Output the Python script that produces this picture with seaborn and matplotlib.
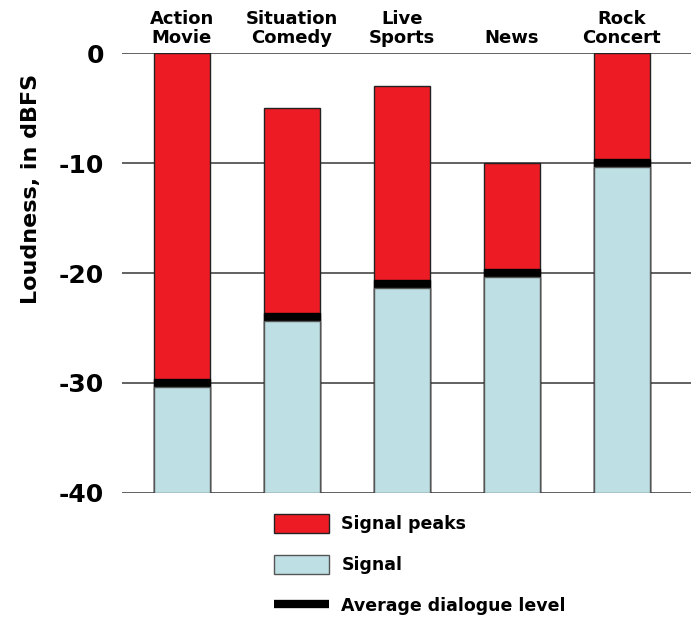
import numpy as np
import pandas as pd
import seaborn as sns
import matplotlib.pyplot as plt
from matplotlib.patches import Patch
from matplotlib.lines import Line2D

categories = ["Action\nMovie", "Situation\nComedy", "Live\nSports", "News", "Rock\nConcert"]
peaks = [0, -5, -3, -10, 0]
dialogue = [-30, -24, -21, -20, -10]
floor = -40
band = 0.33

df = pd.DataFrame({"genre": categories, "peak": peaks, "dialogue": dialogue})
df["peak_h"] = df["peak"] - floor
df["band_h"] = df["dialogue"] + band - floor
df["signal_h"] = df["dialogue"] - band - floor

sns.set_style("white")
plt.rcParams["font.family"] = ["DejaVu Sans"]
plt.rcParams["font.weight"] = "bold"
plt.rcParams["text.color"] = "black"
plt.rcParams["axes.labelcolor"] = "black"
plt.rcParams["xtick.color"] = "black"
plt.rcParams["ytick.color"] = "black"

red = "#ED1C24"
blue = "#BEE0E4"

fig = plt.figure(figsize=(6.91, 6.18), dpi=100)
ax = fig.add_axes([0.1766, 0.2023, 0.8234, 0.7119])

w = 0.51
sns.barplot(data=df, x="genre", y="peak_h", color=red, width=w, bottom=floor,
            edgecolor="#222222", linewidth=1, saturation=1, ax=ax, zorder=2)
sns.barplot(data=df, x="genre", y="band_h", color="black", width=w, bottom=floor,
            edgecolor="black", linewidth=1, saturation=1, ax=ax, zorder=3)
sns.barplot(data=df, x="genre", y="signal_h", color=blue, width=w, bottom=floor,
            edgecolor="#555555", linewidth=1, saturation=1, ax=ax, zorder=4)

ax.set_ylim(-40, 0)
ax.set_xlim(-0.545, 4.63)
ax.set_yticks([0, -10, -20, -30, -40])
ax.set_yticklabels(["0", "-10", "-20", "-30", "-40"], fontsize=18, fontweight="bold")
ax.yaxis.grid(True, color="#555555", linewidth=1.3, zorder=0)
ax.set_axisbelow(True)
ax.tick_params(axis="y", length=0, pad=13)

ax.xaxis.tick_top()
ax.set_xticks(range(len(categories)))
ax.set_xticklabels(categories, fontsize=13, fontweight="bold", linespacing=1.1)
ax.tick_params(axis="x", length=0, pad=4)
ax.set_xlabel("")
ax.set_ylabel("Loudness, in dBFS", fontsize=16, fontweight="bold")
ax.yaxis.set_label_coords(-0.142, 0.69)

for s in ax.spines.values():
    s.set_visible(False)

handles = [
    Patch(facecolor=red, edgecolor="#222222", linewidth=1),
    Patch(facecolor=blue, edgecolor="#555555", linewidth=1),
    Line2D([0], [0], color="black", linewidth=6, solid_capstyle="butt"),
]
labels = ["Signal peaks", "Signal", "Average dialogue level"]
fig.legend(handles, labels, loc="upper left", bbox_to_anchor=(0.396, 0.168),
           frameon=False, prop={"size": 12.5, "weight": "bold"},
           handlelength=3.2, handleheight=1.3, labelspacing=1.25,
           handletextpad=0.7, borderaxespad=0, borderpad=0)

fig.savefig("out.png", dpi=100)
